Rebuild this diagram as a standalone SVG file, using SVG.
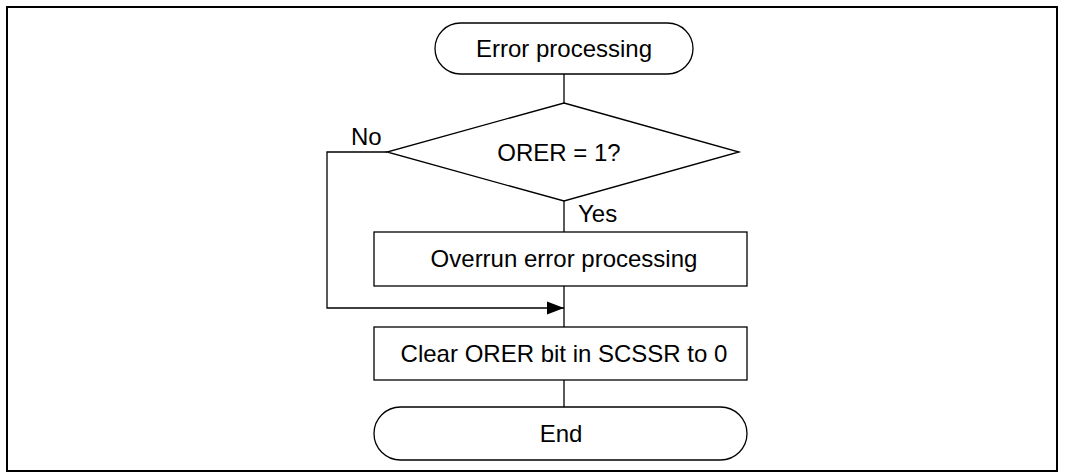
<svg xmlns="http://www.w3.org/2000/svg" width="1065" height="474" viewBox="0 0 1065 474">
<style>
.shape{fill:#fff;stroke:#000;stroke-width:1.3}
.line{fill:none;stroke:#000;stroke-width:1.3}
text{font-family:"Liberation Sans",Arial,sans-serif;font-size:24px;fill:#000}
.c{text-anchor:middle}
</style>
<defs>
<marker id="arrow" markerUnits="userSpaceOnUse" markerWidth="18" markerHeight="14" refX="17" refY="7" orient="auto">
<path d="M0,0.5 L17,7 L0,13.5 Z" fill="#000"/>
</marker>
</defs>
<rect x="7" y="7" width="1050" height="464" fill="none" stroke="#000" stroke-width="2"/>
<g id="connectors">
<line class="line" x1="564" y1="74" x2="564" y2="103"/>
<line class="line" x1="564" y1="201" x2="564" y2="232"/>
<line class="line" x1="564" y1="286" x2="564" y2="327"/>
<line class="line" x1="564" y1="380" x2="564" y2="407"/>
<polyline class="line" points="387,152 327,152 327,308 564,308" marker-end="url(#arrow)"/>
<text x="351" y="145">No</text>
<text x="578" y="222">Yes</text>
</g>
<g id="start">
<rect class="shape" x="435" y="23" width="258" height="51" rx="25.5" ry="25.5"/>
<text class="c" x="564" y="57">Error processing</text>
</g>
<g id="decision">
<polygon class="shape" points="564,103 739,152 564,201 387,152"/>
<text class="c" x="559" y="161">ORER = 1?</text>
</g>
<g id="overrun">
<rect class="shape" x="374" y="232" width="373" height="54"/>
<text class="c" x="564" y="267">Overrun error processing</text>
</g>
<g id="clear">
<rect class="shape" x="374" y="327" width="373" height="53"/>
<text class="c" x="564" y="362">Clear ORER bit in SCSSR to 0</text>
</g>
<g id="end">
<rect class="shape" x="374" y="407" width="373" height="53" rx="26.5" ry="26.5"/>
<text class="c" x="561" y="442">End</text>
</g>
</svg>
